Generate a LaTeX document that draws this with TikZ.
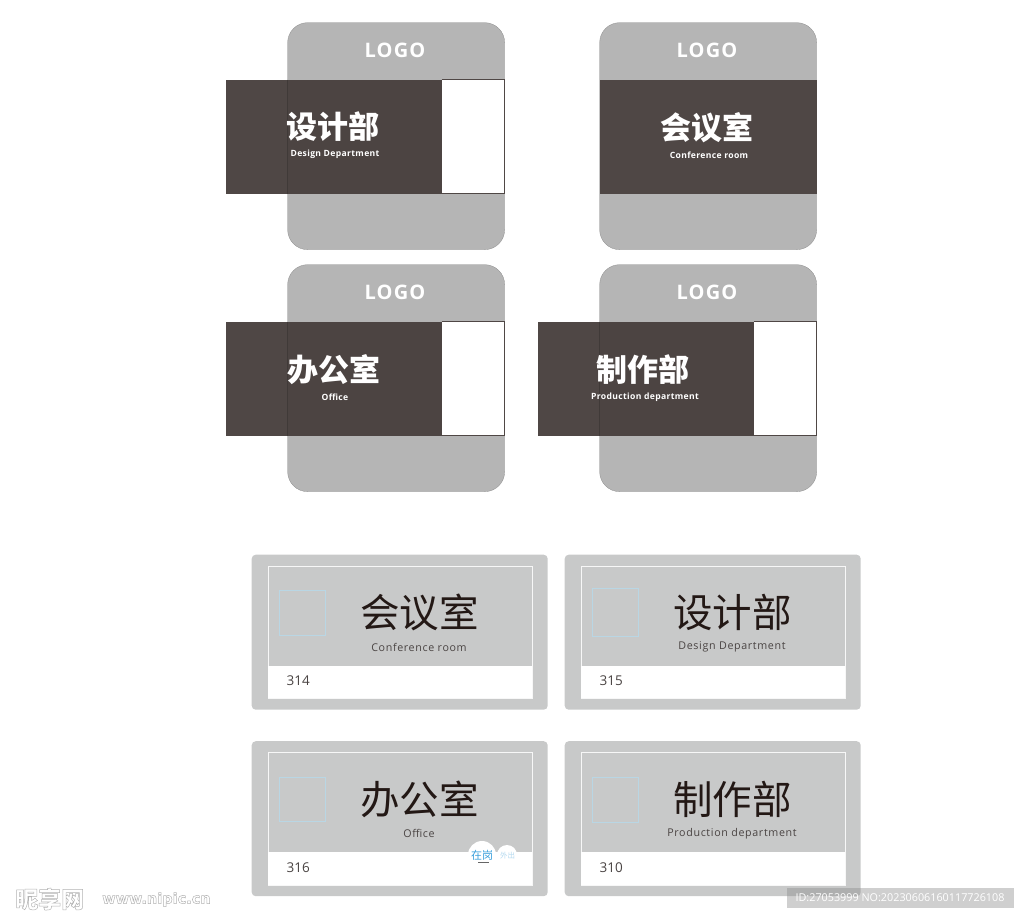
\documentclass[tikz,border=0pt]{standalone}
\usepackage{fontspec}
\setmainfont{Open Sans}
\newfontfamily\cjk{Noto Sans CJK SC}
\newfontfamily\latinsp[LetterSpace=6]{Open Sans}
\newfontfamily\latinbd[LetterSpace=4]{Open Sans}
\newfontfamily\logofont[LetterSpace=6]{Open Sans}
\newfontfamily\wmfont{DejaVu Sans}
\definecolor{cardgray}{HTML}{B5B5B5}
\definecolor{banddark}{HTML}{4F4745}
\definecolor{panelgray}{HTML}{C8C9C9}
\definecolor{inkdark}{HTML}{231815}
\definecolor{subink}{HTML}{4A4443}
\definecolor{squareblue}{HTML}{B9D6E4}
\definecolor{pillblue}{HTML}{3AA0DC}
\definecolor{pillpale}{HTML}{B5DAF0}
\tikzset{
  cardbox/.style={fill=cardgray,draw=black!45,line width=0.3pt,rounded corners=20pt},
  bandbox/.style={fill=banddark,draw=none},
  bandshade/.style={fill=black,fill opacity=0.03,draw=none},
  bandedge/.style={draw=banddark!55!black,opacity=0.4,line width=0.6pt},
  whitebox/.style={fill=white,draw=none},
  whiteedge/.style={draw=banddark,line width=0.8pt},
  logotext/.style={text=white,font=\logofont\bfseries\fontsize{20}{20}\selectfont,inner sep=0pt},
  cntitle/.style={text=white,font=\cjk\bfseries\fontsize{31}{31}\selectfont,inner sep=0pt},
  ensub/.style={text=white,font=\latinbd\bfseries\fontsize{8.6}{9}\selectfont,inner sep=0pt},
  panelbox/.style={fill=panelgray,draw=none,rounded corners=4pt},
  innerbox/.style={fill=panelgray,draw=white!85!panelgray,line width=0.7pt},
  whitebar/.style={fill=white,draw=none},
  iconsquare/.style={draw=squareblue,line width=0.6pt,fill=none},
  pnltitle/.style={text=inkdark,font=\cjk\fontsize{39.5}{39}\selectfont,inner sep=0pt},
  pnlsub/.style={text=subink,font=\latinsp\fontsize{10.7}{12}\selectfont,inner sep=0pt},
  pnlnum/.style={text=subink,font=\fontsize{13.5}{14}\selectfont,inner sep=0pt},
  pillcircle/.style={circle,fill=white,draw=none,inner sep=0pt},
}
\newcommand{\topcard}[9]{%
  % #1 name, #2 x-left card, #3 y-top card, #4 band x-left, #5 title, #6 title cx, #7 sub, #8 sub cx, #9 title offset y
  \node[cardbox,minimum width=217pt,minimum height=227pt,anchor=north west,inner sep=0pt] (#1card) at (#2,#3) {};
  \node[logotext] (#1logo) at ({#2+107.5},{#3+28}) {LOGO};
  \ifnum#2=#4\relax
    \def\bandw{217pt}%
  \else
    \def\bandw{216pt}%
    \node[whitebox,minimum width=63pt,minimum height=114pt,anchor=north west,inner sep=0pt] (#1white) at ({#4+216},{#3+57}) {};
    \draw[whiteedge] ({#4+216},{#3+57}) -- ({#2+217},{#3+57}) -- ({#2+217},{#3+171}) -- ({#4+216},{#3+171});
  \fi
  \node[bandbox,minimum width=\bandw,minimum height=114pt,anchor=north west,inner sep=0pt] (#1band) at (#4,{#3+57}) {};
  \ifnum#2=#4\relax\else
    \fill[bandshade] (#2,{#3+57}) rectangle ({#4+216},{#3+171});
    \draw[bandedge] (#2,{#3+57}) -- (#2,{#3+171});
  \fi
  \node[cntitle] (#1title) at (#6,{#3+#9}) {#5};
  \node[ensub] (#1sub) at (#8,{#3+#9+27.5}) {#7};
}
\newcommand{\lowpanel}[9]{%
  % #1 name, #2 x, #3 y, #4 title, #5 sub, #6 number, #7 sq x, #8 sq y, #9 sq size h
  \node[panelbox,minimum width=296pt,minimum height=155pt,anchor=north west,inner sep=0pt] (#1outer) at (#2,#3) {};
  \node[innerbox,minimum width=264pt,minimum height=132.5pt,anchor=north west,inner sep=0pt] (#1inner) at ({#2+16},{#3+11}) {};
  \node[whitebar,minimum width=264pt,minimum height=32.5pt,anchor=north west,inner sep=0pt] (#1bar) at ({#2+16},{#3+111}) {};
  \node[iconsquare,minimum width=46pt,minimum height=#9pt,anchor=north west,inner sep=0pt] (#1square) at (#7,#8) {};
  \node[pnltitle] (#1title) at ({#2+168},{#3+58}) {#4};
  \node[pnlsub] (#1sub) at ({#2+167.5},{#3+92.7}) {#5};
  \node[pnlnum,anchor=west] (#1num) at ({#2+35},{#3+126.5}) {#6};
}
\begin{document}
\begin{tikzpicture}[x=1pt,y=-1pt]
\useasboundingbox (0,0) rectangle (1024,918);
\begin{scope}[shift={(-0.5,-0.5)}]
\topcard{a}{288}{23}{226}{设计部}{333.5}{Design Department}{335.5}{104.5}
\topcard{b}{600}{23}{600}{会议室}{707.5}{Conference room}{709.5}{105}
\topcard{c}{288}{265}{226}{办公室}{334}{Office}{335.5}{105}
\topcard{d}{600}{265}{538}{制作部}{643}{Production department}{645.5}{105}
\lowpanel{e}{252}{555}{会议室}{Conference room}{314}{279}{590}{45}
\lowpanel{f}{565}{555}{设计部}{Design Department}{315}{592}{588}{48}
\lowpanel{g}{252}{741.5}{办公室}{Office}{316}{279}{777}{44}
\lowpanel{h}{565}{741.5}{制作部}{Production department}{310}{592}{777}{45}
\end{scope}
\node[pillcircle,minimum size=28pt] (pillon) at (482,855) {};
\node[pillcircle,minimum size=20pt] (pilloff) at (507,855) {};
\node[text=pillblue,font=\cjk\fontsize{11}{11}\selectfont,inner sep=0pt] (pillontext) at (482,855.5) {在岗};
\node[text=pillpale,font=\cjk\fontsize{7.5}{8}\selectfont,inner sep=0pt] (pillofftext) at (507.5,855.5) {外出};
\fill[black!60] (478,862) rectangle (489,863);
\node[fill=black!45,fill opacity=0.42,minimum width=227pt,minimum height=20pt,anchor=north west,inner sep=0pt] (idbar) at (787,888) {};
\node[text=white,font=\fontsize{10.8}{12}\selectfont,inner sep=0pt] (idtext) at (900,898) {ID:27053999 NO:20230606160117726108};
\node[anchor=west,inner sep=0pt,text=black!30,font=\cjk\bfseries\fontsize{23}{23}\selectfont] (wmcn) at (15,899) {\special{pdf:code 1 Tr 0.5 w}昵享网\special{pdf:code 0 Tr}};
\node[anchor=west,inner sep=0pt,text=black!30,font=\wmfont\bfseries\fontsize{14.5}{15}\selectfont] (wmen) at (102,899.5) {\special{pdf:code 1 Tr 0.5 w}www.nipic.cn\special{pdf:code 0 Tr}};
\end{tikzpicture}
\end{document}
